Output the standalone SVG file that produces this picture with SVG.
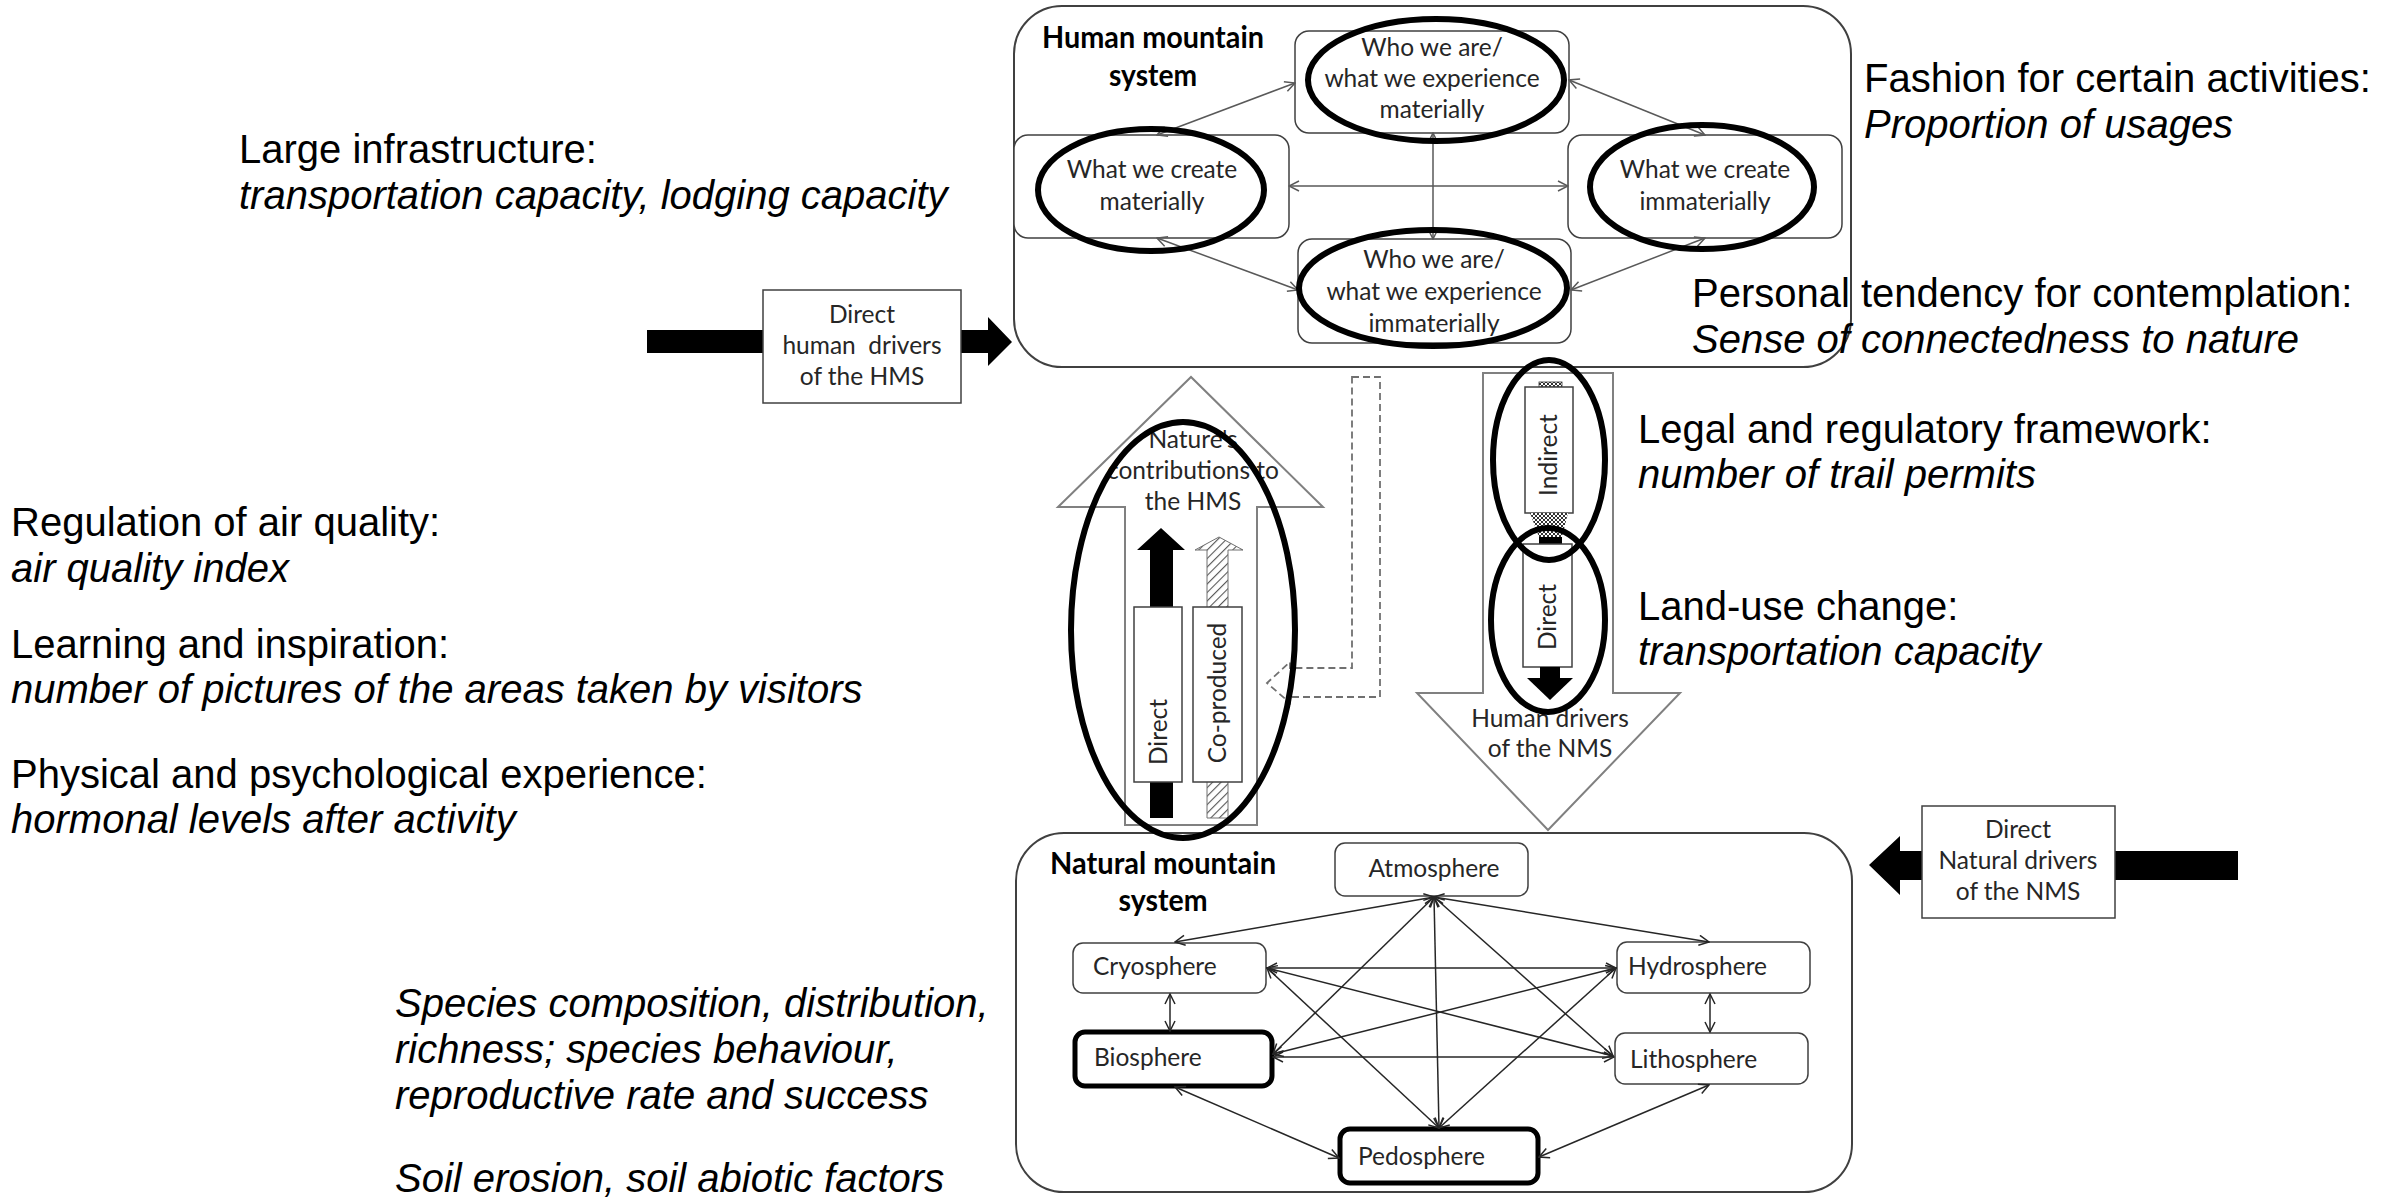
<svg xmlns="http://www.w3.org/2000/svg" width="2404" height="1200" viewBox="0 0 2404 1200">
<style>
  .note{font-family:"Liberation Sans",Arial,sans-serif;font-size:40px;fill:#000}
  .it{font-style:italic}
  .lbl{font-family:Lato,"Open Sans",sans-serif;font-size:24.5px;fill:#262626}
  .ttl{font-family:Lato,"Open Sans",sans-serif;font-weight:bold;font-size:31px;fill:#000}
  .box{fill:#fff;stroke:#404040;stroke-width:1.5}
  .sys{fill:#fff;stroke:#404040;stroke-width:2}
  .ring{fill:none;stroke:#000;stroke-width:6}
  .thick{stroke:#000;stroke-width:5}
  .big{fill:#fff;stroke:#808080;stroke-width:2}
  .h-link{fill:none;stroke:#595959;stroke-width:1.5;marker-start:url(#vee-g);marker-end:url(#vee-g)}
  .n-link{fill:none;stroke:#262626;stroke-width:1.5;marker-start:url(#vee-d);marker-end:url(#vee-d)}
  .dash{fill:none;stroke:#707070;stroke-width:1.8;stroke-dasharray:7 4}
</style>
<defs>
  <marker id="vee-g" viewBox="0 0 12 12" refX="11" refY="6" markerWidth="12" markerHeight="12" markerUnits="userSpaceOnUse" orient="auto-start-reverse">
    <path d="M1,1 L11,6 L1,11" fill="none" stroke="#595959" stroke-width="1.5"/>
  </marker>
  <marker id="vee-d" viewBox="0 0 12 12" refX="11" refY="6" markerWidth="12" markerHeight="12" markerUnits="userSpaceOnUse" orient="auto-start-reverse">
    <path d="M1,1 L11,6 L1,11" fill="none" stroke="#262626" stroke-width="1.5"/>
  </marker>
  <pattern id="hatch" width="6" height="6" patternUnits="userSpaceOnUse" patternTransform="rotate(45)">
    <rect width="6" height="6" fill="#fff"/>
    <line x1="0" y1="0" x2="0" y2="6" stroke="#555" stroke-width="2.2"/>
  </pattern>
  <pattern id="mesh" width="4" height="4" patternUnits="userSpaceOnUse">
    <rect width="4" height="4" fill="#fff"/>
    <path d="M0,0 L4,4 M4,0 L0,4" stroke="#333" stroke-width="1"/>
  </pattern>
</defs>

<rect width="2404" height="1200" fill="#fff"/>

<!-- Human mountain system -->
<g id="hms">
  <rect class="sys" x="1014" y="6" width="837" height="361" rx="48"/>
  <text class="ttl" text-anchor="middle"><tspan x="1153" y="48" textLength="222" lengthAdjust="spacingAndGlyphs">Human mountain</tspan><tspan x="1153" y="86" textLength="88" lengthAdjust="spacingAndGlyphs">system</tspan></text>
</g>
<g id="hms-exp-material">
  <rect class="box" x="1295" y="31" width="274" height="102" rx="14"/>
  <text class="lbl" text-anchor="middle"><tspan x="1432" y="56">Who we are/</tspan><tspan x="1432" y="87">what we experience</tspan><tspan x="1432" y="118">materially</tspan></text>
</g>
<g id="hms-create-material">
  <rect class="box" x="1014" y="135" width="275" height="103" rx="14"/>
  <text class="lbl" text-anchor="middle"><tspan x="1152" y="178">What we create</tspan><tspan x="1152" y="210">materially</tspan></text>
</g>
<g id="hms-exp-immaterial">
  <rect class="box" x="1298" y="239" width="273" height="104" rx="14"/>
  <text class="lbl" text-anchor="middle"><tspan x="1434" y="268">Who we are/</tspan><tspan x="1434" y="300">what we experience</tspan><tspan x="1434" y="332">immaterially</tspan></text>
</g>
<g id="hms-create-immaterial">
  <rect class="box" x="1568" y="135" width="274" height="103" rx="14"/>
  <text class="lbl" text-anchor="middle"><tspan x="1705" y="178">What we create</tspan><tspan x="1705" y="210">immaterially</tspan></text>
</g>

<!-- Natural mountain system -->
<g id="nms">
  <rect class="sys" x="1016" y="833" width="836" height="359" rx="48"/>
  <text class="ttl" text-anchor="middle"><tspan x="1163" y="874" textLength="226" lengthAdjust="spacingAndGlyphs">Natural mountain</tspan><tspan x="1163" y="911" textLength="89" lengthAdjust="spacingAndGlyphs">system</tspan></text>
</g>
<g id="atmosphere">
  <rect class="box" x="1335" y="843" width="193" height="53" rx="10"/>
  <text class="lbl" x="1434" y="877" text-anchor="middle">Atmosphere</text>
</g>
<g id="cryosphere">
  <rect class="box" x="1073" y="943" width="193" height="50" rx="10"/>
  <text class="lbl" x="1093" y="975">Cryosphere</text>
</g>
<g id="hydrosphere">
  <rect class="box" x="1617" y="942" width="193" height="51" rx="10"/>
  <text class="lbl" x="1628" y="975">Hydrosphere</text>
</g>
<g id="biosphere">
  <rect class="box thick" x="1075" y="1032" width="197" height="54" rx="10"/>
  <text class="lbl" x="1094" y="1066">Biosphere</text>
</g>
<g id="lithosphere">
  <rect class="box" x="1615" y="1033" width="193" height="51" rx="10"/>
  <text class="lbl" x="1630" y="1068">Lithosphere</text>
</g>
<g id="pedosphere">
  <rect class="box thick" x="1340" y="1129" width="198" height="54" rx="10"/>
  <text class="lbl" x="1358" y="1165">Pedosphere</text>
</g>

<!-- Connectors -->
<g id="connectors">
  <!-- within the human system -->
  <line class="h-link" x1="1157" y1="135" x2="1295" y2="83"/>
  <line class="h-link" x1="1157" y1="238" x2="1298" y2="290"/>
  <line class="h-link" x1="1289" y1="186" x2="1568" y2="186"/>
  <line class="h-link" x1="1433" y1="133" x2="1433" y2="239"/>
  <line class="h-link" x1="1569" y1="80" x2="1705" y2="135"/>
  <line class="h-link" x1="1705" y1="238" x2="1571" y2="290"/>
  <!-- within the natural system -->
  <line class="n-link" x1="1434" y1="897" x2="1175" y2="942"/>
  <line class="n-link" x1="1434" y1="897" x2="1709" y2="942"/>
  <line class="n-link" x1="1434" y1="897" x2="1273" y2="1054"/>
  <line class="n-link" x1="1434" y1="897" x2="1613" y2="1056"/>
  <line class="n-link" x1="1434" y1="897" x2="1439" y2="1128"/>
  <line class="n-link" x1="1267" y1="968" x2="1616" y2="968"/>
  <line class="n-link" x1="1267" y1="968" x2="1613" y2="1056"/>
  <line class="n-link" x1="1267" y1="968" x2="1439" y2="1128"/>
  <line class="n-link" x1="1616" y1="968" x2="1273" y2="1054"/>
  <line class="n-link" x1="1616" y1="968" x2="1439" y2="1128"/>
  <line class="n-link" x1="1273" y1="1057" x2="1614" y2="1057"/>
  <line class="n-link" x1="1170" y1="994" x2="1170" y2="1031"/>
  <line class="n-link" x1="1710" y1="994" x2="1710" y2="1032"/>
  <line class="n-link" x1="1175" y1="1087" x2="1339" y2="1158"/>
  <line class="n-link" x1="1709" y1="1085" x2="1539" y2="1157"/>
  <!-- feedback from the human system to nature's contributions -->
  <path class="dash" d="M1352,377 H1380 V697 H1290 V703 L1267,683 L1290,662 V668 H1352 Z"/>
</g>

<!-- Direct human drivers of the HMS -->
<g id="human-drivers">
  <rect x="647" y="330" width="116" height="23" fill="#000"/>
  <path d="M961,330 H988 V317 L1012,342 L988,366 V353 H961 Z" fill="#000"/>
  <rect class="box" x="763" y="290" width="198" height="113"/>
  <text class="lbl" text-anchor="middle" xml:space="preserve"><tspan x="862" y="323">Direct</tspan><tspan x="862" y="354">human  drivers</tspan><tspan x="862" y="385">of the HMS</tspan></text>
</g>

<!-- Direct natural drivers of the NMS -->
<g id="natural-drivers">
  <rect x="2115" y="851" width="123" height="29" fill="#000"/>
  <path d="M1922,851 H1900 V836 L1869,865 L1900,895 V880 H1922 Z" fill="#000"/>
  <rect class="box" x="1922" y="806" width="193" height="112"/>
  <text class="lbl" text-anchor="middle"><tspan x="2018" y="838">Direct</tspan><tspan x="2018" y="869">Natural drivers</tspan><tspan x="2018" y="900">of the NMS</tspan></text>
</g>

<!-- Nature's contributions to the HMS -->
<g id="contributions">
  <path class="big" d="M1125,825 V507 H1058 L1191,377 L1323,507 H1257 V825 Z"/>
  <text class="lbl" text-anchor="middle" fill="#404040"><tspan x="1193" y="448">Nature's</tspan><tspan x="1193" y="479">contributions to</tspan><tspan x="1193" y="510">the HMS</tspan></text>
  <path d="M1150,818 V550 H1137 L1161,528 L1185,550 H1173 V818 Z" fill="#000"/>
  <path d="M1207,818 V550 H1195 L1219,537 L1243,550 H1228 V818 Z" fill="url(#hatch)" stroke="#707070" stroke-width="1"/>
  <rect class="box" x="1134" y="607" width="48" height="175"/>
  <rect class="box" x="1193" y="607" width="49" height="175"/>
  <text class="lbl" text-anchor="middle" transform="translate(1167,732) rotate(-90)">Direct</text>
  <text class="lbl" text-anchor="middle" transform="translate(1226,693) rotate(-90)">Co-produced</text>
  <ellipse class="ring" cx="1183" cy="630" rx="112" ry="208"/>
</g>

<!-- Human drivers of the NMS -->
<g id="human-drivers-nms">
  <path class="big" d="M1483,373 H1613 V693 H1680 L1548,830 L1417,693 H1483 Z"/>
  <text class="lbl" text-anchor="middle" fill="#404040"><tspan x="1550" y="727">Human drivers</tspan><tspan x="1550" y="757">of the NMS</tspan></text>
  <rect x="1539" y="382" width="23" height="5" fill="url(#mesh)" stroke="#333" stroke-width="0.8"/>
  <rect class="box" x="1525" y="387" width="48" height="126"/>
  <polygon points="1530,513 1568,513 1562,537 1539,537" fill="url(#mesh)"/>
  <rect x="1539" y="537" width="23" height="7" fill="#000"/>
  <rect class="box" x="1523" y="544" width="49" height="123"/>
  <rect x="1540" y="667" width="20" height="11" fill="#000"/>
  <polygon points="1527,678 1573,678 1550,700" fill="#000"/>
  <text class="lbl" text-anchor="middle" transform="translate(1557,455) rotate(-90)">Indirect</text>
  <text class="lbl" text-anchor="middle" transform="translate(1556,617) rotate(-90)">Direct</text>
  <ellipse class="ring" cx="1549" cy="460" rx="56" ry="100"/>
  <ellipse class="ring" cx="1548" cy="620" rx="57" ry="92"/>
</g>

<!-- Highlight rings in the human system -->
<g id="hms-rings">
  <ellipse class="ring" cx="1436" cy="80" rx="128" ry="61"/>
  <ellipse class="ring" cx="1151" cy="190" rx="113" ry="61"/>
  <ellipse class="ring" cx="1433" cy="288" rx="134" ry="58"/>
  <ellipse class="ring" cx="1702" cy="187" rx="112" ry="62"/>
</g>

<!-- Indicator notes -->
<g id="notes">
  <text class="note"><tspan x="239" y="163">Large infrastructure:</tspan><tspan class="it" x="239" y="209">transportation capacity, lodging capacity</tspan></text>
  <text class="note"><tspan x="11" y="536">Regulation of air quality:</tspan><tspan class="it" x="11" y="582">air quality index</tspan></text>
  <text class="note"><tspan x="11" y="658">Learning and inspiration:</tspan><tspan class="it" x="11" y="703">number of pictures of the areas taken by visitors</tspan></text>
  <text class="note"><tspan x="11" y="788">Physical and psychological experience:</tspan><tspan class="it" x="11" y="833">hormonal levels after activity</tspan></text>
  <text class="note it"><tspan x="395" y="1017">Species composition, distribution,</tspan><tspan x="395" y="1063">richness; species behaviour,</tspan><tspan x="395" y="1109">reproductive rate and success</tspan></text>
  <text class="note it" x="395" y="1192">Soil erosion, soil abiotic factors</text>
  <text class="note"><tspan x="1864" y="92">Fashion for certain activities:</tspan><tspan class="it" x="1864" y="138">Proportion of usages</tspan></text>
  <text class="note"><tspan x="1692" y="307">Personal tendency for contemplation:</tspan><tspan class="it" x="1692" y="353">Sense of connectedness to nature</tspan></text>
  <text class="note"><tspan x="1638" y="443">Legal and regulatory framework:</tspan><tspan class="it" x="1638" y="488">number of trail permits</tspan></text>
  <text class="note"><tspan x="1638" y="620">Land-use change:</tspan><tspan class="it" x="1638" y="665">transportation capacity</tspan></text>
</g>
</svg>
